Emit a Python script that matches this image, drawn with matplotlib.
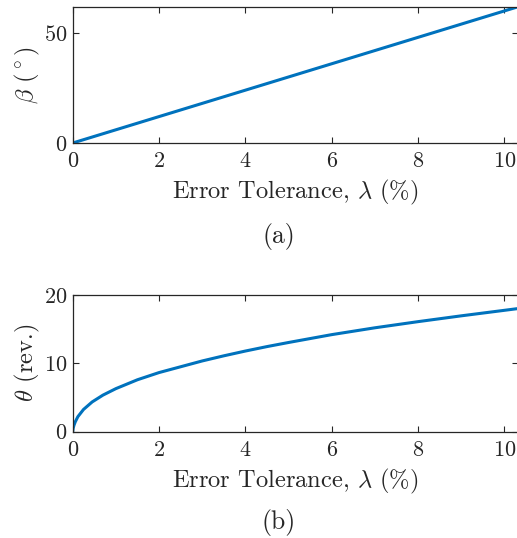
import matplotlib
matplotlib.use("Agg")
import matplotlib.pyplot as plt

# ---- data ----
lam_a = [0.0, 10.3]
beta_a = [0.0, 62.0]

lam_b = [0, 0.01, 0.03, 0.06, 0.12, 0.25, 0.45, 0.7, 1.0, 1.5, 2.0, 2.5, 3.0, 3.5,
         4.0, 4.5, 5.0, 6.0, 7.0, 8.0, 9.0, 10.3]
theta_b = [0, 0.5, 0.95, 1.45, 2.2, 3.25, 4.35, 5.35, 6.3, 7.6, 8.65, 9.5, 10.35, 11.1,
           11.8, 12.45, 13.05, 14.2, 15.2, 16.1, 16.95, 18.0]

xticks = [0, 2, 4, 6, 8, 10]
yticks_a = [0, 50]
yticks_b = [0, 10, 20]

xlabel = "Error Tolerance, $\\lambda$ (%)"
ylabel_a = "$\\beta$ $(^\\circ)$"
ylabel_b = "$\\theta$ (rev.)"
captions = ["(a)", "(b)"]

# ---- style ----
plt.rcParams.update({
    "font.family": "serif",
    "font.serif": ["cmr10"],
    "mathtext.fontset": "cm",
    "axes.formatter.use_mathtext": True,
    "axes.unicode_minus": False,
})

W, H = 517, 538
fig = plt.figure(figsize=(W / 100, H / 100), dpi=100)

axcol = "#262626"
linecol = "#0072BD"


def px_axes(left, top, right, bottom):
    return fig.add_axes([left / W, 1 - bottom / H, (right - left) / W, (bottom - top) / H])


ax1 = px_axes(72.7, 7, 518.1, 143)
ax2 = px_axes(72.7, 295, 518.1, 431.7)

ax1.plot(lam_a, beta_a, color=linecol, lw=2.2, solid_capstyle="butt", solid_joinstyle="round")
ax2.plot(lam_b, theta_b, color=linecol, lw=2.2, solid_capstyle="butt", solid_joinstyle="round")

ax1.set_xlim(0, 10.32)
ax1.set_ylim(0, 62)
ax2.set_xlim(0, 10.32)
ax2.set_ylim(0, 20)
ax1.set_yticks(yticks_a)
ax2.set_yticks(yticks_b)

for ax, yl in ((ax1, ylabel_a), (ax2, ylabel_b)):
    ax.set_xticks(xticks)
    for s in ax.spines.values():
        s.set_color(axcol)
        s.set_linewidth(0.9)
    ax.tick_params(direction="in", length=4, width=0.8, color=axcol,
                   labelcolor=axcol, labelsize=16, top=True, right=True)
    ax.tick_params(axis="x", pad=6)
    ax.tick_params(axis="y", pad=4)
    ax.set_xlabel(xlabel, fontsize=17.6, color=axcol, labelpad=5)
    ax.set_ylabel(yl, fontsize=17.6, color=axcol, va="center")
    ax.yaxis.set_label_coords(-(72.7 - 27) / 445.4, 0.5)

fig.text(279 / W, 1 - 236 / H, captions[0], ha="center", va="center", fontsize=18.5, color=axcol)
fig.text(279 / W, 1 - 522 / H, captions[1], ha="center", va="center", fontsize=18.5, color=axcol)

fig.savefig("out.png", dpi=100)
